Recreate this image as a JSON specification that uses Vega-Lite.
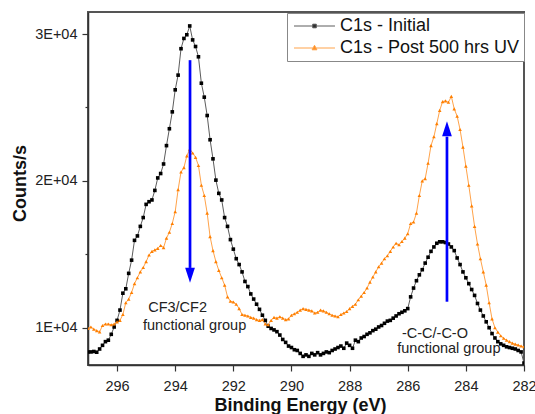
{
"$schema": "https://vega.github.io/schema/vega-lite/v6.json",
"width": 436, "height": 353,
"autosize": "none",
"padding": {"left": 88, "top": 12, "right": 11, "bottom": 49},
"background": "white",
"config": {
  "view": {"stroke": "#555", "strokeWidth": 2},
  "font": "Liberation Sans",
  "axis": {"grid": false, "domainColor": "#333", "domainWidth": 1.5, "tickColor": "#333", "tickWidth": 1.2, "labelColor": "#222", "labelFont": "Liberation Sans", "labelFontSize": 14.5, "titleFont": "Liberation Sans", "titleColor": "#111", "titleFontSize": 18, "titleFontWeight": "bold", "labelOverlap": false, "labelFlush": false}
},
"datasets": {
  "spectra": [
{"series":"C1s - Initial","E":297.0,"counts":8350},{"series":"C1s - Initial","E":296.9,"counts":8350},{"series":"C1s - Initial","E":296.8,"counts":8380},{"series":"C1s - Initial","E":296.7,"counts":8330},{"series":"C1s - Initial","E":296.6,"counts":8550},{"series":"C1s - Initial","E":296.5,"counts":8800},{"series":"C1s - Initial","E":296.4,"counts":9050},{"series":"C1s - Initial","E":296.3,"counts":9150},{"series":"C1s - Initial","E":296.2,"counts":9550},{"series":"C1s - Initial","E":296.1,"counts":10050},
{"series":"C1s - Initial","E":296.0,"counts":10500},{"series":"C1s - Initial","E":295.9,"counts":11200},{"series":"C1s - Initial","E":295.8,"counts":12350},{"series":"C1s - Initial","E":295.7,"counts":12650},{"series":"C1s - Initial","E":295.6,"counts":13700},{"series":"C1s - Initial","E":295.5,"counts":14600},{"series":"C1s - Initial","E":295.4,"counts":15950},{"series":"C1s - Initial","E":295.3,"counts":16250},{"series":"C1s - Initial","E":295.2,"counts":16900},{"series":"C1s - Initial","E":295.1,"counts":17500},
{"series":"C1s - Initial","E":295.0,"counts":18400},{"series":"C1s - Initial","E":294.9,"counts":18580},{"series":"C1s - Initial","E":294.8,"counts":18700},{"series":"C1s - Initial","E":294.7,"counts":19350},{"series":"C1s - Initial","E":294.6,"counts":20200},{"series":"C1s - Initial","E":294.5,"counts":20500},{"series":"C1s - Initial","E":294.4,"counts":21150},{"series":"C1s - Initial","E":294.3,"counts":22400},{"series":"C1s - Initial","E":294.2,"counts":23550},{"series":"C1s - Initial","E":294.1,"counts":24700},
{"series":"C1s - Initial","E":294.0,"counts":26200},{"series":"C1s - Initial","E":293.9,"counts":27200},{"series":"C1s - Initial","E":293.8,"counts":29000},{"series":"C1s - Initial","E":293.7,"counts":29700},{"series":"C1s - Initial","E":293.6,"counts":29950},{"series":"C1s - Initial","E":293.5,"counts":30550},{"series":"C1s - Initial","E":293.4,"counts":29600},{"series":"C1s - Initial","E":293.3,"counts":29150},{"series":"C1s - Initial","E":293.2,"counts":28450},{"series":"C1s - Initial","E":293.1,"counts":26650},
{"series":"C1s - Initial","E":293.0,"counts":25700},{"series":"C1s - Initial","E":292.9,"counts":24450},{"series":"C1s - Initial","E":292.8,"counts":22800},{"series":"C1s - Initial","E":292.7,"counts":21500},{"series":"C1s - Initial","E":292.6,"counts":20050},{"series":"C1s - Initial","E":292.5,"counts":19150},{"series":"C1s - Initial","E":292.4,"counts":18700},{"series":"C1s - Initial","E":292.3,"counts":17500},{"series":"C1s - Initial","E":292.2,"counts":16900},{"series":"C1s - Initial","E":292.1,"counts":16000},
{"series":"C1s - Initial","E":292.0,"counts":15350},{"series":"C1s - Initial","E":291.9,"counts":14700},{"series":"C1s - Initial","E":291.8,"counts":14300},{"series":"C1s - Initial","E":291.7,"counts":13800},{"series":"C1s - Initial","E":291.6,"counts":13150},{"series":"C1s - Initial","E":291.5,"counts":12800},{"series":"C1s - Initial","E":291.4,"counts":12300},{"series":"C1s - Initial","E":291.3,"counts":11950},{"series":"C1s - Initial","E":291.2,"counts":11600},{"series":"C1s - Initial","E":291.1,"counts":11250},
{"series":"C1s - Initial","E":291.0,"counts":10850},{"series":"C1s - Initial","E":290.9,"counts":10500},{"series":"C1s - Initial","E":290.8,"counts":10100},{"series":"C1s - Initial","E":290.7,"counts":9950},{"series":"C1s - Initial","E":290.6,"counts":9850},{"series":"C1s - Initial","E":290.5,"counts":9730},{"series":"C1s - Initial","E":290.4,"counts":9500},{"series":"C1s - Initial","E":290.3,"counts":9200},{"series":"C1s - Initial","E":290.2,"counts":9000},{"series":"C1s - Initial","E":290.1,"counts":8750},
{"series":"C1s - Initial","E":290.0,"counts":8650},{"series":"C1s - Initial","E":289.9,"counts":8500},{"series":"C1s - Initial","E":289.8,"counts":8450},{"series":"C1s - Initial","E":289.7,"counts":8250},{"series":"C1s - Initial","E":289.6,"counts":8050},{"series":"C1s - Initial","E":289.5,"counts":8150},{"series":"C1s - Initial","E":289.4,"counts":8050},{"series":"C1s - Initial","E":289.3,"counts":8250},{"series":"C1s - Initial","E":289.2,"counts":8150},{"series":"C1s - Initial","E":289.1,"counts":8300},
{"series":"C1s - Initial","E":289.0,"counts":8150},{"series":"C1s - Initial","E":288.9,"counts":8250},{"series":"C1s - Initial","E":288.8,"counts":8350},{"series":"C1s - Initial","E":288.7,"counts":8300},{"series":"C1s - Initial","E":288.6,"counts":8450},{"series":"C1s - Initial","E":288.5,"counts":8550},{"series":"C1s - Initial","E":288.4,"counts":8650},{"series":"C1s - Initial","E":288.3,"counts":8750},{"series":"C1s - Initial","E":288.2,"counts":8600},{"series":"C1s - Initial","E":288.1,"counts":8950},
{"series":"C1s - Initial","E":288.0,"counts":8800},{"series":"C1s - Initial","E":287.9,"counts":8600},{"series":"C1s - Initial","E":287.8,"counts":9150},{"series":"C1s - Initial","E":287.7,"counts":9050},{"series":"C1s - Initial","E":287.6,"counts":9300},{"series":"C1s - Initial","E":287.5,"counts":9400},{"series":"C1s - Initial","E":287.4,"counts":9550},{"series":"C1s - Initial","E":287.3,"counts":9650},{"series":"C1s - Initial","E":287.2,"counts":9800},{"series":"C1s - Initial","E":287.1,"counts":9900},
{"series":"C1s - Initial","E":287.0,"counts":10050},{"series":"C1s - Initial","E":286.9,"counts":10150},{"series":"C1s - Initial","E":286.8,"counts":10300},{"series":"C1s - Initial","E":286.7,"counts":10450},{"series":"C1s - Initial","E":286.6,"counts":10500},{"series":"C1s - Initial","E":286.5,"counts":10650},{"series":"C1s - Initial","E":286.4,"counts":10800},{"series":"C1s - Initial","E":286.3,"counts":10950},{"series":"C1s - Initial","E":286.2,"counts":11050},{"series":"C1s - Initial","E":286.1,"counts":11150},
{"series":"C1s - Initial","E":286.0,"counts":11300},{"series":"C1s - Initial","E":285.9,"counts":12100},{"series":"C1s - Initial","E":285.8,"counts":12700},{"series":"C1s - Initial","E":285.7,"counts":13200},{"series":"C1s - Initial","E":285.6,"counts":13600},{"series":"C1s - Initial","E":285.5,"counts":13950},{"series":"C1s - Initial","E":285.4,"counts":14400},{"series":"C1s - Initial","E":285.3,"counts":14800},{"series":"C1s - Initial","E":285.2,"counts":15200},{"series":"C1s - Initial","E":285.1,"counts":15500},
{"series":"C1s - Initial","E":285.0,"counts":15750},{"series":"C1s - Initial","E":284.9,"counts":15850},{"series":"C1s - Initial","E":284.8,"counts":15850},{"series":"C1s - Initial","E":284.7,"counts":15800},{"series":"C1s - Initial","E":284.6,"counts":15700},{"series":"C1s - Initial","E":284.5,"counts":15500},{"series":"C1s - Initial","E":284.4,"counts":15250},{"series":"C1s - Initial","E":284.3,"counts":14750},{"series":"C1s - Initial","E":284.2,"counts":14300},{"series":"C1s - Initial","E":284.1,"counts":13800},
{"series":"C1s - Initial","E":284.0,"counts":13400},{"series":"C1s - Initial","E":283.9,"counts":13000},{"series":"C1s - Initial","E":283.8,"counts":12600},{"series":"C1s - Initial","E":283.7,"counts":12200},{"series":"C1s - Initial","E":283.6,"counts":11650},{"series":"C1s - Initial","E":283.5,"counts":11200},{"series":"C1s - Initial","E":283.4,"counts":10800},{"series":"C1s - Initial","E":283.3,"counts":10400},{"series":"C1s - Initial","E":283.2,"counts":10000},{"series":"C1s - Initial","E":283.1,"counts":9600},
{"series":"C1s - Initial","E":283.0,"counts":9300},{"series":"C1s - Initial","E":282.9,"counts":9050},{"series":"C1s - Initial","E":282.8,"counts":8900},{"series":"C1s - Initial","E":282.7,"counts":8800},{"series":"C1s - Initial","E":282.6,"counts":8700},{"series":"C1s - Initial","E":282.5,"counts":8650},{"series":"C1s - Initial","E":282.4,"counts":8600},{"series":"C1s - Initial","E":282.3,"counts":8550},{"series":"C1s - Initial","E":282.2,"counts":8450},{"series":"C1s - Initial","E":282.1,"counts":8350},
{"series":"C1s - Initial","E":282.0,"counts":7600},
{"series":"C1s - Post 500 hrs UV","E":297.0,"counts":9950},{"series":"C1s - Post 500 hrs UV","E":296.9,"counts":10050},{"series":"C1s - Post 500 hrs UV","E":296.8,"counts":9900},{"series":"C1s - Post 500 hrs UV","E":296.7,"counts":9800},{"series":"C1s - Post 500 hrs UV","E":296.6,"counts":9720},{"series":"C1s - Post 500 hrs UV","E":296.5,"counts":10150},{"series":"C1s - Post 500 hrs UV","E":296.4,"counts":10250},{"series":"C1s - Post 500 hrs UV","E":296.3,"counts":10250},{"series":"C1s - Post 500 hrs UV","E":296.2,"counts":10200},{"series":"C1s - Post 500 hrs UV","E":296.1,"counts":10250},
{"series":"C1s - Post 500 hrs UV","E":296.0,"counts":10400},{"series":"C1s - Post 500 hrs UV","E":295.9,"counts":10500},{"series":"C1s - Post 500 hrs UV","E":295.8,"counts":10900},{"series":"C1s - Post 500 hrs UV","E":295.7,"counts":11700},{"series":"C1s - Post 500 hrs UV","E":295.6,"counts":11950},{"series":"C1s - Post 500 hrs UV","E":295.5,"counts":12400},{"series":"C1s - Post 500 hrs UV","E":295.4,"counts":13000},{"series":"C1s - Post 500 hrs UV","E":295.3,"counts":13400},{"series":"C1s - Post 500 hrs UV","E":295.2,"counts":13800},{"series":"C1s - Post 500 hrs UV","E":295.1,"counts":14100},
{"series":"C1s - Post 500 hrs UV","E":295.0,"counts":14500},{"series":"C1s - Post 500 hrs UV","E":294.9,"counts":14950},{"series":"C1s - Post 500 hrs UV","E":294.8,"counts":15200},{"series":"C1s - Post 500 hrs UV","E":294.7,"counts":15300},{"series":"C1s - Post 500 hrs UV","E":294.6,"counts":15400},{"series":"C1s - Post 500 hrs UV","E":294.5,"counts":15600},{"series":"C1s - Post 500 hrs UV","E":294.4,"counts":15450},{"series":"C1s - Post 500 hrs UV","E":294.3,"counts":16100},{"series":"C1s - Post 500 hrs UV","E":294.2,"counts":16500},{"series":"C1s - Post 500 hrs UV","E":294.1,"counts":17100},
{"series":"C1s - Post 500 hrs UV","E":294.0,"counts":17900},{"series":"C1s - Post 500 hrs UV","E":293.9,"counts":19400},{"series":"C1s - Post 500 hrs UV","E":293.8,"counts":20600},{"series":"C1s - Post 500 hrs UV","E":293.7,"counts":20900},{"series":"C1s - Post 500 hrs UV","E":293.6,"counts":21700},{"series":"C1s - Post 500 hrs UV","E":293.5,"counts":22150},{"series":"C1s - Post 500 hrs UV","E":293.4,"counts":21900},{"series":"C1s - Post 500 hrs UV","E":293.3,"counts":21600},{"series":"C1s - Post 500 hrs UV","E":293.2,"counts":21050},{"series":"C1s - Post 500 hrs UV","E":293.1,"counts":19700},
{"series":"C1s - Post 500 hrs UV","E":293.0,"counts":19000},{"series":"C1s - Post 500 hrs UV","E":292.9,"counts":17800},{"series":"C1s - Post 500 hrs UV","E":292.8,"counts":16200},{"series":"C1s - Post 500 hrs UV","E":292.7,"counts":15250},{"series":"C1s - Post 500 hrs UV","E":292.6,"counts":14500},{"series":"C1s - Post 500 hrs UV","E":292.5,"counts":13900},{"series":"C1s - Post 500 hrs UV","E":292.4,"counts":13400},{"series":"C1s - Post 500 hrs UV","E":292.3,"counts":12900},{"series":"C1s - Post 500 hrs UV","E":292.2,"counts":12100},{"series":"C1s - Post 500 hrs UV","E":292.1,"counts":11800},
{"series":"C1s - Post 500 hrs UV","E":292.0,"counts":11750},{"series":"C1s - Post 500 hrs UV","E":291.9,"counts":11600},{"series":"C1s - Post 500 hrs UV","E":291.8,"counts":11300},{"series":"C1s - Post 500 hrs UV","E":291.7,"counts":10900},{"series":"C1s - Post 500 hrs UV","E":291.6,"counts":10850},{"series":"C1s - Post 500 hrs UV","E":291.5,"counts":10800},{"series":"C1s - Post 500 hrs UV","E":291.4,"counts":10700},{"series":"C1s - Post 500 hrs UV","E":291.3,"counts":10650},{"series":"C1s - Post 500 hrs UV","E":291.2,"counts":10550},{"series":"C1s - Post 500 hrs UV","E":291.1,"counts":10500},
{"series":"C1s - Post 500 hrs UV","E":291.0,"counts":10550},{"series":"C1s - Post 500 hrs UV","E":290.9,"counts":10250},{"series":"C1s - Post 500 hrs UV","E":290.8,"counts":10200},{"series":"C1s - Post 500 hrs UV","E":290.7,"counts":10500},{"series":"C1s - Post 500 hrs UV","E":290.6,"counts":10700},{"series":"C1s - Post 500 hrs UV","E":290.5,"counts":10650},{"series":"C1s - Post 500 hrs UV","E":290.4,"counts":10750},{"series":"C1s - Post 500 hrs UV","E":290.3,"counts":10650},{"series":"C1s - Post 500 hrs UV","E":290.2,"counts":10550},{"series":"C1s - Post 500 hrs UV","E":290.1,"counts":10600},
{"series":"C1s - Post 500 hrs UV","E":290.0,"counts":10850},{"series":"C1s - Post 500 hrs UV","E":289.9,"counts":10950},{"series":"C1s - Post 500 hrs UV","E":289.8,"counts":11050},{"series":"C1s - Post 500 hrs UV","E":289.7,"counts":11200},{"series":"C1s - Post 500 hrs UV","E":289.6,"counts":11300},{"series":"C1s - Post 500 hrs UV","E":289.5,"counts":11250},{"series":"C1s - Post 500 hrs UV","E":289.4,"counts":11200},{"series":"C1s - Post 500 hrs UV","E":289.3,"counts":11150},{"series":"C1s - Post 500 hrs UV","E":289.2,"counts":11000},{"series":"C1s - Post 500 hrs UV","E":289.1,"counts":11050},
{"series":"C1s - Post 500 hrs UV","E":289.0,"counts":11200},{"series":"C1s - Post 500 hrs UV","E":288.9,"counts":11150},{"series":"C1s - Post 500 hrs UV","E":288.8,"counts":11050},{"series":"C1s - Post 500 hrs UV","E":288.7,"counts":10950},{"series":"C1s - Post 500 hrs UV","E":288.6,"counts":10850},{"series":"C1s - Post 500 hrs UV","E":288.5,"counts":10800},{"series":"C1s - Post 500 hrs UV","E":288.4,"counts":10750},{"series":"C1s - Post 500 hrs UV","E":288.3,"counts":10900},{"series":"C1s - Post 500 hrs UV","E":288.2,"counts":11000},{"series":"C1s - Post 500 hrs UV","E":288.1,"counts":11100},
{"series":"C1s - Post 500 hrs UV","E":288.0,"counts":11300},{"series":"C1s - Post 500 hrs UV","E":287.9,"counts":11450},{"series":"C1s - Post 500 hrs UV","E":287.8,"counts":11600},{"series":"C1s - Post 500 hrs UV","E":287.7,"counts":11900},{"series":"C1s - Post 500 hrs UV","E":287.6,"counts":12150},{"series":"C1s - Post 500 hrs UV","E":287.5,"counts":12400},{"series":"C1s - Post 500 hrs UV","E":287.4,"counts":12700},{"series":"C1s - Post 500 hrs UV","E":287.3,"counts":13100},{"series":"C1s - Post 500 hrs UV","E":287.2,"counts":13450},{"series":"C1s - Post 500 hrs UV","E":287.1,"counts":13800},
{"series":"C1s - Post 500 hrs UV","E":287.0,"counts":14150},{"series":"C1s - Post 500 hrs UV","E":286.9,"counts":14400},{"series":"C1s - Post 500 hrs UV","E":286.8,"counts":14700},{"series":"C1s - Post 500 hrs UV","E":286.7,"counts":14900},{"series":"C1s - Post 500 hrs UV","E":286.6,"counts":15200},{"series":"C1s - Post 500 hrs UV","E":286.5,"counts":15500},{"series":"C1s - Post 500 hrs UV","E":286.4,"counts":15750},{"series":"C1s - Post 500 hrs UV","E":286.3,"counts":15650},{"series":"C1s - Post 500 hrs UV","E":286.2,"counts":15870},{"series":"C1s - Post 500 hrs UV","E":286.1,"counts":16100},
{"series":"C1s - Post 500 hrs UV","E":286.0,"counts":16400},{"series":"C1s - Post 500 hrs UV","E":285.9,"counts":17100},{"series":"C1s - Post 500 hrs UV","E":285.8,"counts":17200},{"series":"C1s - Post 500 hrs UV","E":285.7,"counts":17800},{"series":"C1s - Post 500 hrs UV","E":285.6,"counts":19000},{"series":"C1s - Post 500 hrs UV","E":285.5,"counts":20000},{"series":"C1s - Post 500 hrs UV","E":285.4,"counts":20150},{"series":"C1s - Post 500 hrs UV","E":285.3,"counts":21200},{"series":"C1s - Post 500 hrs UV","E":285.2,"counts":22400},{"series":"C1s - Post 500 hrs UV","E":285.1,"counts":23000},
{"series":"C1s - Post 500 hrs UV","E":285.0,"counts":23900},{"series":"C1s - Post 500 hrs UV","E":284.9,"counts":24800},{"series":"C1s - Post 500 hrs UV","E":284.8,"counts":25400},{"series":"C1s - Post 500 hrs UV","E":284.7,"counts":25450},{"series":"C1s - Post 500 hrs UV","E":284.6,"counts":25350},{"series":"C1s - Post 500 hrs UV","E":284.5,"counts":25750},{"series":"C1s - Post 500 hrs UV","E":284.4,"counts":24900},{"series":"C1s - Post 500 hrs UV","E":284.3,"counts":24400},{"series":"C1s - Post 500 hrs UV","E":284.2,"counts":23500},{"series":"C1s - Post 500 hrs UV","E":284.1,"counts":22300},
{"series":"C1s - Post 500 hrs UV","E":284.0,"counts":21000},{"series":"C1s - Post 500 hrs UV","E":283.9,"counts":19700},{"series":"C1s - Post 500 hrs UV","E":283.8,"counts":18300},{"series":"C1s - Post 500 hrs UV","E":283.7,"counts":16900},{"series":"C1s - Post 500 hrs UV","E":283.6,"counts":15700},{"series":"C1s - Post 500 hrs UV","E":283.5,"counts":14700},{"series":"C1s - Post 500 hrs UV","E":283.4,"counts":13800},{"series":"C1s - Post 500 hrs UV","E":283.3,"counts":12900},{"series":"C1s - Post 500 hrs UV","E":283.2,"counts":11700},{"series":"C1s - Post 500 hrs UV","E":283.1,"counts":10600},
{"series":"C1s - Post 500 hrs UV","E":283.0,"counts":10000},{"series":"C1s - Post 500 hrs UV","E":282.9,"counts":9700},{"series":"C1s - Post 500 hrs UV","E":282.8,"counts":9450},{"series":"C1s - Post 500 hrs UV","E":282.7,"counts":9280},{"series":"C1s - Post 500 hrs UV","E":282.6,"counts":9150},{"series":"C1s - Post 500 hrs UV","E":282.5,"counts":9050},{"series":"C1s - Post 500 hrs UV","E":282.4,"counts":8950},{"series":"C1s - Post 500 hrs UV","E":282.3,"counts":8880},{"series":"C1s - Post 500 hrs UV","E":282.2,"counts":8820},{"series":"C1s - Post 500 hrs UV","E":282.1,"counts":8750},
{"series":"C1s - Post 500 hrs UV","E":282.0,"counts":8700}
  ],
  "arrows": [
    {"E": 293.49, "start": 28220, "end": 14070, "head": 13566, "dir": "down"},
    {"E": 284.65, "start": 11770, "end": 23010, "head": 23556, "dir": "up"}
  ],
  "notes": [
    {"E": 294.93, "counts": 11070, "text": "CF3/CF2"},
    {"E": 295.107, "counts": 9843, "text": "functional group"},
    {"E": 286.20, "counts": 9298, "text": "-C-C/-C-O"},
    {"E": 286.36, "counts": 8256, "text": "functional group"}
  ]
},
"layer": [
  {
    "data": {"name": "spectra"},
    "mark": {"type": "line", "strokeWidth": 1, "clip": true},
    "encoding": {
      "x": {"field": "E", "type": "quantitative",
        "scale": {"domain": [282, 297], "reverse": true, "nice": false, "zero": false},
        "axis": {"values": [282,283,284,285,286,287,288,289,290,291,292,293,294,295,296], "format": "d",
          "labelExpr": "datum.value % 2 === 0 ? datum.label : ''",
          "tickSize": {"condition": {"test": "datum.value % 2 !== 0", "value": 3}, "value": 6},
          "labelPadding": 8, "title": "Binding Energy (eV)", "titleX": 212, "titleY": 45, "titleBaseline": "alphabetic", "titleAlign": "center"}},
      "y": {"field": "counts", "type": "quantitative",
        "scale": {"domain": [7460, 31500], "nice": false, "zero": false},
        "axis": {"values": [10000, 15000, 20000, 25000, 30000],
          "labelExpr": "datum.value % 10000 === 0 ? (datum.value / 10000) + 'E+04' : ''",
          "tickSize": {"condition": {"test": "datum.value % 10000 !== 0", "value": 3}, "value": 6},
          "labelPadding": 5, "title": "Counts/s", "titleX": -63, "titleY": 171, "titleAngle": -90, "titleBaseline": "alphabetic", "titleAlign": "center"}},
      "color": {"field": "series", "type": "nominal",
        "scale": {"domain": ["C1s - Initial", "C1s - Post 500 hrs UV"], "range": ["#5c5c5c", "#ffa34a"]},
        "legend": {"title": null, "orient": "none", "legendX": 199, "legendY": 1,
          "strokeColor": "#888", "fillColor": "white", "padding": 4, "rowPadding": 4,
          "labelFontSize": 18, "labelFont": "Liberation Sans", "labelColor": "#111", "labelLimit": 400,
          "symbolSize": 144, "symbolStrokeWidth": 1, "labelOffset": 31,
          "symbolType": "M-1,0H5.83",
          "encode": {"symbols": {"update": {
            "shape": {"signal": "datum.value === 'C1s - Initial' ? 'M-1,0H5.83M2.12,-0.3H2.72V0.3H2.12Z' : 'M-1,0H5.83M2.42,-0.45L2.02,0.3H2.82Z'"},
            "fill": {"signal": "datum.value === 'C1s - Initial' ? '#000000' : '#ff7f00'"},
            "fillOpacity": {"value": 1}}}}}}
    }
  },
  {
    "data": {"name": "spectra"},
    "mark": {"type": "point", "filled": true, "opacity": 1, "clip": true},
    "encoding": {
      "x": {"field": "E", "type": "quantitative"},
      "y": {"field": "counts", "type": "quantitative"},
      "color": {"field": "series", "type": "nominal",
        "scale": {"domain": ["C1s - Initial", "C1s - Post 500 hrs UV"], "range": ["#000000", "#ff7f00"]}, "legend": null},
      "shape": {"field": "series", "type": "nominal",
        "scale": {"domain": ["C1s - Initial", "C1s - Post 500 hrs UV"], "range": ["square", "triangle-up"]}, "legend": null},
      "size": {"value": 13}
    }
  },
  {
    "data": {"name": "arrows"},
    "mark": {"type": "rule", "color": "#0000ff", "strokeWidth": 2.7},
    "encoding": {
      "x": {"field": "E", "type": "quantitative"},
      "y": {"field": "start", "type": "quantitative"},
      "y2": {"field": "end"}
    }
  },
  {
    "data": {"name": "arrows"},
    "transform": [{"filter": "datum.dir === 'down'"}],
    "mark": {"type": "point", "filled": true, "color": "#0000ff", "opacity": 1, "size": 225, "shape": "M0,1L-0.65,-1L0.65,-1Z"},
    "encoding": {
      "x": {"field": "E", "type": "quantitative"},
      "y": {"field": "head", "type": "quantitative"}
    }
  },
  {
    "data": {"name": "arrows"},
    "transform": [{"filter": "datum.dir === 'up'"}],
    "mark": {"type": "point", "filled": true, "color": "#0000ff", "opacity": 1, "size": 225, "shape": "M0,-1L-0.65,1L0.65,1Z"},
    "encoding": {
      "x": {"field": "E", "type": "quantitative"},
      "y": {"field": "head", "type": "quantitative"}
    }
  },
  {
    "data": {"name": "notes"},
    "mark": {"type": "text", "align": "left", "baseline": "alphabetic", "fontSize": 14.5, "font": "Liberation Sans", "color": "#222"},
    "encoding": {
      "x": {"field": "E", "type": "quantitative"},
      "y": {"field": "counts", "type": "quantitative"},
      "text": {"field": "text"}
    }
  }
],
"resolve": {"scale": {"color": "independent"}}
}
